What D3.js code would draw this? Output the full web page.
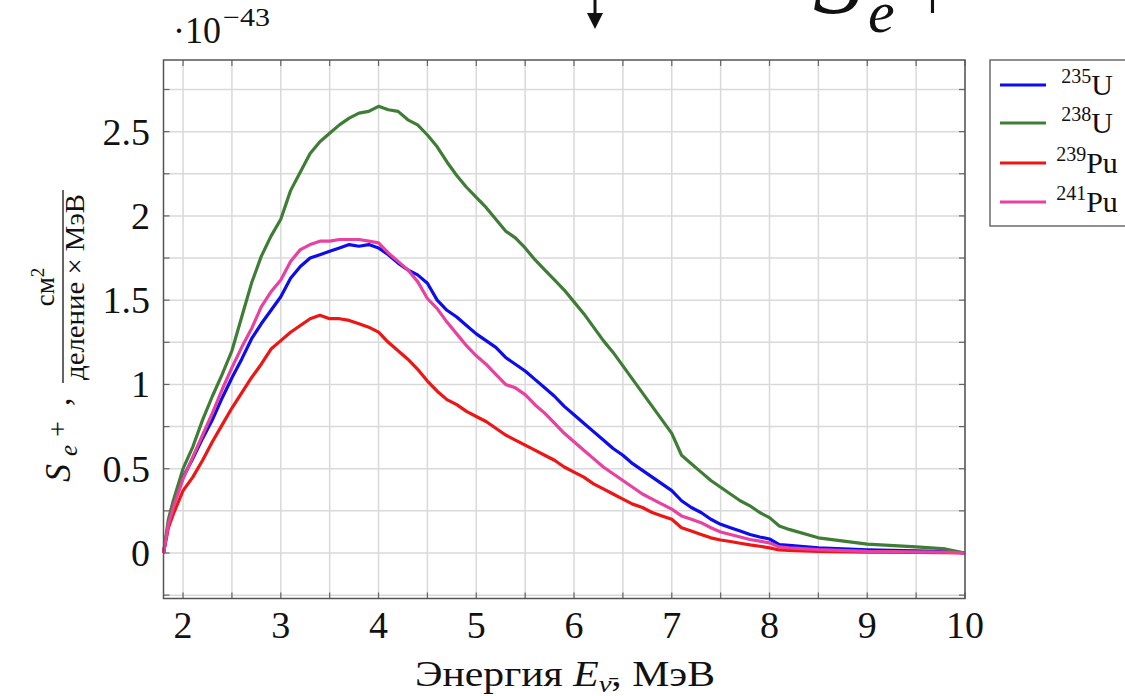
<!DOCTYPE html>
<html><head><meta charset="utf-8">
<script src="https://cdn.jsdelivr.net/npm/d3@7"></script>
<style>
body{margin:0;background:#fff}
svg{display:block}
text{font-family:"Liberation Serif","DejaVu Serif",serif;fill:#111}
</style>
</head><body>
<svg id="chart" width="1125" height="696"></svg>
<script>
// ---- data (S in units of 1e-43 cm^2 / (fission x MeV)) ----
const energy = [1.8,1.85,1.9,2.0,2.1,2.2,2.3,2.4,2.5,2.6,2.7,2.8,2.9,3.0,3.1,3.2,3.3,3.4,3.5,3.6,3.7,3.8,3.9,4.0,
  4.1,4.2,4.3,4.4,4.5,4.6,4.7,4.8,4.9,5.0,5.1,5.2,5.3,5.4,5.5,5.6,5.7,5.8,5.9,6.0,6.1,6.2,6.3,6.4,6.5,6.6,6.7,6.8,6.9,7.0,
  7.1,7.2,7.3,7.4,7.5,7.6,7.7,7.8,7.9,8.0,8.1,8.2,8.5,9.0,9.5,9.8,10.0];
const u235 = [0,0.17,0.28,0.45,0.56,0.68,0.79,0.92,1.04,1.15,1.27,1.36,1.44,1.52,1.63,1.70,1.75,1.77,1.79,1.81,1.83,1.82,1.83,1.81,
  1.77,1.72,1.68,1.65,1.60,1.50,1.44,1.40,1.35,1.30,1.26,1.22,1.16,1.12,1.08,1.03,0.98,0.93,0.87,0.82,0.77,0.72,0.67,0.62,0.58,0.53,0.49,0.45,0.41,0.37,
  0.31,0.27,0.24,0.20,0.17,0.15,0.13,0.11,0.095,0.083,0.05,0.045,0.03,0.018,0.012,0.009,0];
const u238 = [0,0.20,0.31,0.50,0.63,0.79,0.93,1.06,1.20,1.40,1.60,1.76,1.88,1.98,2.15,2.26,2.37,2.44,2.49,2.54,2.58,2.61,2.62,2.65,
  2.63,2.62,2.57,2.54,2.48,2.41,2.32,2.24,2.17,2.11,2.05,1.98,1.91,1.87,1.81,1.74,1.68,1.62,1.56,1.49,1.42,1.34,1.26,1.19,1.11,1.03,0.95,0.87,0.79,0.71,
  0.58,0.53,0.48,0.43,0.39,0.35,0.31,0.28,0.24,0.21,0.16,0.14,0.09,0.053,0.036,0.024,0];
const pu239 = [0,0.15,0.23,0.37,0.45,0.55,0.66,0.76,0.86,0.95,1.04,1.12,1.21,1.26,1.31,1.35,1.39,1.41,1.39,1.39,1.38,1.36,1.34,1.31,
  1.25,1.20,1.15,1.09,1.02,0.96,0.91,0.88,0.84,0.81,0.78,0.74,0.70,0.67,0.64,0.61,0.58,0.55,0.51,0.48,0.45,0.41,0.38,0.35,0.32,0.29,0.27,0.24,0.22,0.20,
  0.15,0.13,0.11,0.09,0.077,0.068,0.058,0.048,0.04,0.03,0.018,0.015,0.01,0.005,0.003,0.002,0];
const pu241 = [0,0.17,0.27,0.44,0.57,0.70,0.83,0.97,1.10,1.22,1.33,1.46,1.55,1.62,1.73,1.80,1.83,1.85,1.85,1.86,1.86,1.86,1.85,1.84,
  1.78,1.73,1.68,1.61,1.51,1.45,1.37,1.30,1.23,1.17,1.12,1.06,1.00,0.98,0.94,0.88,0.83,0.77,0.71,0.66,0.61,0.56,0.51,0.47,0.43,0.39,0.35,0.32,0.29,0.26,
  0.22,0.20,0.18,0.15,0.125,0.11,0.095,0.08,0.07,0.06,0.036,0.03,0.02,0.01,0.007,0.005,0];
const massNumbers = ["235","238","239","241"];
const elements = ["U","U","Pu","Pu"];
const seriesValues = [u235, u238, pu239, pu241];
const colors = ["#0c0cef","#3f7d37","#ee1515","#e8419f"];
const xTicks = [2,3,4,5,6,7,8,9,10];
const yTicks = [0,0.5,1,1.5,2,2.5];
const yTickLabels = ["0","0.5","1","1.5","2","2.5"];

// ---- chart ----
const svg = d3.select("#chart");
const x = d3.scaleLinear().domain([1.8,10]).range([163.5,965]);
const y = d3.scaleLinear().domain([-0.27,2.925]).range([598.5,60]);
const x0 = x.range()[0], x1 = x.range()[1], yb = y.range()[0], yt = y.range()[1];

// grid
const xGrid = d3.range(2,10.01,0.5);
const yGrid = d3.range(-0.25,2.76,0.25);
const g = svg.append("g");
g.selectAll(".vg").data(xGrid).join("line")
  .attr("x1",d=>x(d)).attr("x2",d=>x(d)).attr("y1",yt).attr("y2",yb)
  .attr("stroke","#d9d9d9").attr("stroke-width",1.5);
g.selectAll(".hg").data(yGrid).join("line")
  .attr("y1",d=>y(d)).attr("y2",d=>y(d)).attr("x1",x0).attr("x2",x1)
  .attr("stroke","#d9d9d9").attr("stroke-width",1.5);

// ticks (inside, all sides)
const tl = 6;
[[yb,-1],[yt,1]].forEach(([yy,dir])=>{
  g.selectAll(null).data(xGrid).join("line")
    .attr("x1",d=>x(d)).attr("x2",d=>x(d)).attr("y1",yy).attr("y2",yy+dir*tl)
    .attr("stroke","#666").attr("stroke-width",1.2);
});
[[x0,1],[x1,-1]].forEach(([xx,dir])=>{
  g.selectAll(null).data(yGrid).join("line")
    .attr("y1",d=>y(d)).attr("y2",d=>y(d)).attr("x1",xx).attr("x2",xx+dir*tl)
    .attr("stroke","#666").attr("stroke-width",1.2);
});

// curves
const line = d3.line().x((d,i)=>x(energy[i])).y(d=>y(d));
svg.append("g").selectAll("path").data(seriesValues).join("path")
  .attr("d",d=>line(d)).attr("fill","none")
  .attr("stroke",(d,i)=>colors[i]).attr("stroke-width",3.2)
  .attr("stroke-linejoin","round");

// frame
svg.append("rect").attr("x",x0).attr("y",yt).attr("width",x1-x0).attr("height",yb-yt)
  .attr("fill","none").attr("stroke","#555").attr("stroke-width",1.5);

// tick labels
svg.append("g").selectAll("text").data(xTicks).join("text")
  .attr("x",d=>x(d)).attr("y",638).attr("text-anchor","middle")
  .attr("font-size",38).text(d=>d);
svg.append("g").selectAll("text").data(yTicks).join("text")
  .attr("x",150).attr("y",d=>y(d)+13).attr("text-anchor","end")
  .attr("font-size",38).text((d,i)=>yTickLabels[i]);

// exponent
svg.append("text").attr("x",173).attr("y",43).attr("font-size",37)
  .attr("textLength",48).attr("lengthAdjust","spacingAndGlyphs").text("·10");
svg.append("text").attr("x",223).attr("y",26).attr("font-size",26)
  .attr("textLength",47).attr("lengthAdjust","spacingAndGlyphs").text("−43");

// x label
const xl = svg.append("text").attr("x",415).attr("y",686).attr("font-size",35)
  .attr("textLength",300).attr("lengthAdjust","spacingAndGlyphs");
xl.append("tspan").text("Энергия ");
xl.append("tspan").attr("font-style","italic").text("E");
xl.append("tspan").attr("font-style","italic").attr("font-size",24).attr("dy",6).text("ν̄");
xl.append("tspan").attr("dy",-6).text(", МэВ");

// y label (rotated)
const yl = svg.append("g").attr("transform","translate(70,482) rotate(-90)");
yl.append("text").attr("x",0).attr("y",0).attr("font-size",36).attr("font-style","italic").text("S");
yl.append("text").attr("x",26).attr("y",7).attr("font-size",25).attr("font-style","italic").text("e");
yl.append("text").attr("x",45).attr("y",-3).attr("font-size",28).text("+");
yl.append("text").attr("x",76).attr("y",0).attr("font-size",34).text(",");
yl.append("line").attr("x1",99).attr("x2",292).attr("y1",-7).attr("y2",-7).attr("stroke","#111").attr("stroke-width",1.3);
const num = yl.append("text").attr("x",195).attr("y",-16).attr("text-anchor","middle").attr("font-size",27);
num.append("tspan").text("см");
num.append("tspan").attr("font-size",19).attr("dy",-10).text("2");
yl.append("text").attr("x",102).attr("y",14).attr("font-size",27)
  .attr("textLength",186).attr("lengthAdjust","spacingAndGlyphs").text("деление × МэВ");

// legend
const lg = svg.append("g");
lg.append("rect").attr("x",990).attr("y",60).attr("width",160).attr("height",166)
  .attr("fill","#fff").attr("stroke","#555").attr("stroke-width",1.3);
const rowsY = [85,123,163,202];
massNumbers.forEach((m,i)=>{
  lg.append("line").attr("x1",1000).attr("x2",1046).attr("y1",rowsY[i]).attr("y2",rowsY[i])
    .attr("stroke",colors[i]).attr("stroke-width",3.2);
  const t = lg.append("text").attr("x",1087).attr("y",rowsY[i]+10).attr("text-anchor","middle").attr("font-size",30);
  t.append("tspan").attr("font-size",20).attr("dy",-12).text(m);
  t.append("tspan").attr("dy",12).text(elements[i]);
});

// top decorations: arrow and partial big symbol
svg.append("line").attr("x1",595).attr("x2",595).attr("y1",0).attr("y2",16).attr("stroke","#111").attr("stroke-width",3);
svg.append("path").attr("d","M587,13 L603,13 L595,29 Z").attr("fill","#111");
svg.append("text").attr("x",813).attr("y",12).attr("font-size",100).attr("font-style","italic").text("S");
svg.append("text").attr("x",868).attr("y",32).attr("font-size",60).attr("font-style","italic").text("e");
svg.append("text").attr("x",915).attr("y",19).attr("font-size",62).text("+");
</script>
</body></html>
